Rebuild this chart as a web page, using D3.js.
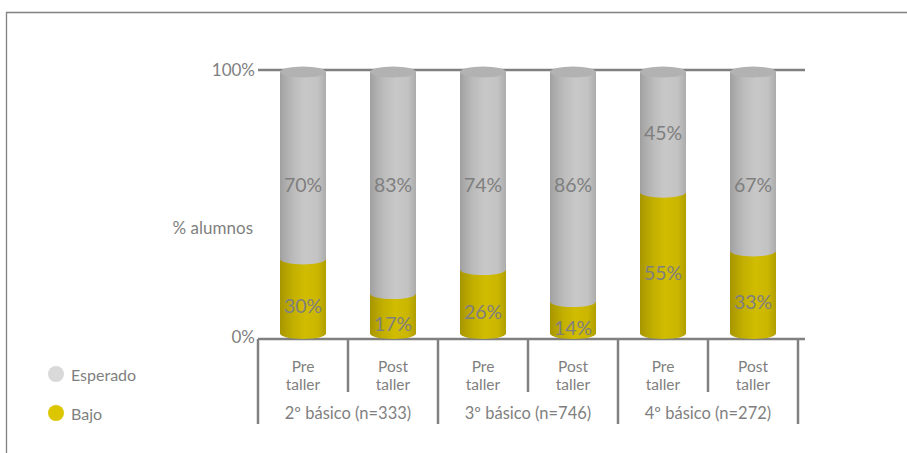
<!DOCTYPE html>
<html>
<head>
<meta charset="utf-8">
<script src="https://cdn.jsdelivr.net/npm/d3@7"></script>
<style>
  html, body { margin: 0; padding: 0; background: #fff; }
  svg { display: block; font-family: Lato, "Open Sans", sans-serif; }
</style>
</head>
<body>
<svg id="chart" width="907" height="453"></svg>
<script>
// Bars: one cylinder per grade and moment (pre / post workshop)
const groups = ["2º básico (n=333)", "3º básico (n=746)", "4º básico (n=272)"];
const moments = ["Pre", "Post"];
const momentLines = [["Pre", "taller"], ["Post", "taller"]];
// Share of students per level, in bar order: 2º pre, 2º post, 3º pre, 3º post, 4º pre, 4º post
const bajo = [30, 17, 26, 14, 55, 33];
const esperado = [70, 83, 74, 86, 45, 67];
const seriesNames = ["Esperado", "Bajo"];
const yTicks = [0, 100];
const yTitle = "% alumnos";

const svg = d3.select("#chart");
const grey = "#7f7f7f";

// Frame
svg.append("path")
  .attr("d", "M6.5,453 V12.5 H907")
  .attr("fill", "none").attr("stroke", "#808080").attr("stroke-width", 1.3);

// Scales
const keys = [];
groups.forEach((g, gi) => moments.forEach((m, mi) => keys.push({ g, gi, m, mi, key: gi + "-" + mi })));
const x = d3.scaleBand().domain(keys.map(k => k.key)).range([258, 798]).paddingInner(0).paddingOuter(0);
const y = d3.scaleLinear().domain([0, 100]).range([339, 72]);

const barW = 46, rx = barW / 2, ry = 5.5;

// Gradients
const defs = svg.append("defs");
function grad(id, stops) {
  const lg = defs.append("linearGradient").attr("id", id).attr("x1", "0").attr("x2", "1").attr("y1", "0").attr("y2", "0");
  stops.forEach(([o, c]) => lg.append("stop").attr("offset", o).attr("stop-color", c));
}
grad("gGrey", [[0, "#a0a0a0"], [0.12, "#adadad"], [0.3, "#bcbcbc"], [0.55, "#c8c8c8"], [0.82, "#c3c3c3"], [1, "#acacac"]]);
grad("gYel", [[0, "#a69500"], [0.12, "#b3a100"], [0.3, "#c3b000"], [0.55, "#d0bc00"], [0.82, "#cbb600"], [1, "#b09e00"]]);

// Gridlines at 0% and 100%
const gridX0 = 258, gridX1 = 805;
svg.append("g").selectAll("line").data(yTicks).join("line")
  .attr("x1", gridX0).attr("x2", gridX1)
  .attr("y1", d => y(d) - (d === 100 ? 2 : 0)).attr("y2", d => y(d) - (d === 100 ? 2 : 0))
  .attr("stroke", "#808080").attr("stroke-width", 2.5);

// Y tick labels and title
svg.append("g").selectAll("text").data(yTicks).join("text")
  .attr("x", 255).attr("y", d => y(d) - (d === 0 ? 3 : 3))
  .attr("text-anchor", "end").attr("dominant-baseline", "central")
  .attr("font-size", 17).attr("fill", grey)
  .text(d => d + "%");
svg.append("text").attr("x", 253).attr("y", 227)
  .attr("text-anchor", "end").attr("dominant-baseline", "central")
  .attr("font-size", 17).attr("fill", grey).text(yTitle);

// Cylinder segment: side body from yTop down to yBot, front half-ellipse at the bottom
function segPath(cx, yTop, yBot) {
  const l = cx - rx, r = cx + rx;
  return `M${l},${yTop} L${l},${yBot} A${rx},${ry} 0 0 0 ${r},${yBot} L${r},${yTop} Z`;
}

const bars = svg.append("g");
const base = y(0) - ry;
keys.forEach((k, i) => {
  const cx = x(k.key) + x.bandwidth() / 2;
  const b = bajo[i], e = esperado[i];
  const yB = y(b), yT = y(b + e);
  // Bajo (bottom)
  bars.append("path").attr("d", segPath(cx, yB, base)).attr("fill", "url(#gYel)");
  // Esperado (top) – its lower rim sits on the Bajo segment
  bars.append("path").attr("d", segPath(cx, yT, yB)).attr("fill", "url(#gGrey)");
  // Top cap
  bars.append("ellipse").attr("cx", cx).attr("cy", yT).attr("rx", rx).attr("ry", ry).attr("fill", "#b2b2b2");

  // Value labels
  const labelRow = y(58);
  const yEsp = (yB - labelRow > 30) ? labelRow : (yT + yB) / 2;
  const yBaj = (yB + y(0)) / 2 + 7;
  bars.append("text").attr("x", cx).attr("y", yEsp)
    .attr("text-anchor", "middle").attr("dominant-baseline", "central")
    .attr("font-size", 19.5).attr("fill", grey).text(e + "%");
  bars.append("text").attr("x", cx).attr("y", yBaj)
    .attr("text-anchor", "middle").attr("dominant-baseline", "central")
    .attr("font-size", 19.5).attr("fill", grey).text(b + "%");
});

// Category table below the axis
const table = svg.append("g").attr("stroke", "#808080").attr("stroke-width", 2.5);
const yAxis = y(0);
keys.forEach(k => {
  const xl = x(k.key);
  table.append("line").attr("x1", xl).attr("x2", xl)
    .attr("y1", yAxis).attr("y2", k.mi === 0 ? 424 : 392);
});
table.append("line").attr("x1", x.range()[1]).attr("x2", x.range()[1]).attr("y1", yAxis).attr("y2", 424);

const lab = svg.append("g").attr("fill", grey).attr("text-anchor", "middle");
keys.forEach(k => {
  const cx = x(k.key) + x.bandwidth() / 2;
  const t = lab.append("text").attr("x", cx).attr("font-size", 15.5);
  momentLines[k.mi].forEach((ln, li) => {
    t.append("tspan").attr("x", cx).attr("y", 372 + li * 18).text(ln);
  });
});
groups.forEach((g, gi) => {
  const x0 = x(gi + "-0"), x1 = x(gi + "-1") + x.bandwidth();
  lab.append("text").attr("x", (x0 + x1) / 2).attr("y", 419)
    .attr("font-size", 16.5).text(g);
});

// Legend
const legColors = { "Esperado": "#d9d9d9", "Bajo": "#dcc600" };
const leg = svg.append("g");
seriesNames.forEach((s, i) => {
  const ly = 374 + i * 39;
  leg.append("circle").attr("cx", 56).attr("cy", ly).attr("r", 8).attr("fill", legColors[s]);
  leg.append("text").attr("x", 71).attr("y", ly).attr("dominant-baseline", "central")
    .attr("font-size", 16).attr("fill", grey).text(s);
});
</script>
</body>
</html>
